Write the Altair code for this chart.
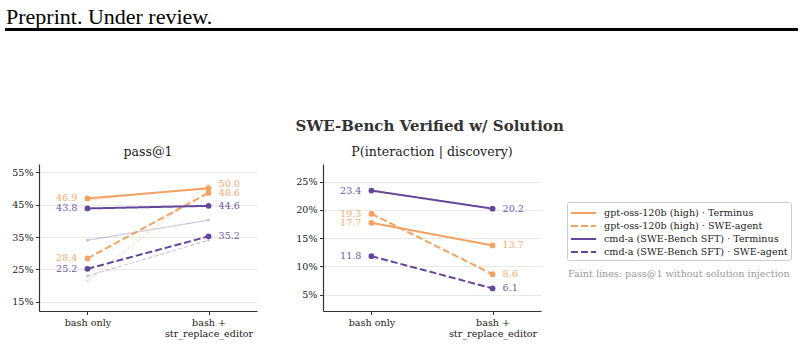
import altair as alt
import pandas as pd

# ---------------- data ----------------
categories = ["bash only", "bash +\nstr_replace_editor"]
series = [
    "gpt-oss-120b (high) · Terminus",
    "gpt-oss-120b (high) · SWE-agent",
    "cmd-a (SWE-Bench SFT) · Terminus",
    "cmd-a (SWE-Bench SFT) · SWE-agent",
]
dashed = [False, True, False, True]
colors = ["#F4A261", "#F4A261", "#64469A", "#64469A"]
dashes = [[1, 0], [7, 3], [1, 0], [7, 3]]

# pass@1 with solution injection (bash only, bash + editor)
pass1_bash = [46.9, 28.4, 43.8, 25.2]
pass1_edit = [50.0, 48.6, 44.6, 35.2]
# pass@1 without solution injection (faint lines)
base_bash = [46.3, 21.5, 34.0, 23.0]
base_edit = [50.4, 51.0, 40.2, 34.0]
# P(interaction | discovery)
pint_bash = [17.7, 19.3, 23.4, 11.8]
pint_edit = [13.7, 8.6, 20.2, 6.1]

left_ticks = [15, 25, 35, 45, 55]
right_ticks = [5, 10, 15, 20, 25]
left_domain = [12.2, 57.5]
right_domain = [2.1, 28.1]

W, H = 218, 147
FONT = "DejaVu Serif"


def table(vals_a, vals_b):
    rows = []
    for s, d, col, a, b in zip(series, dashed, colors, vals_a, vals_b):
        rows.append({"series": s, "dashed": d, "col": col, "cat": categories[0], "value": a})
        rows.append({"series": s, "dashed": d, "col": col, "cat": categories[1], "value": b})
    return pd.DataFrame(rows)


def label_table(df, domain):
    # push overlapping labels apart (upwards), min gap in pixels
    gap = 8.5 * (domain[1] - domain[0]) / H
    out = []
    for c in categories:
        sub = df[df.cat == c].sort_values("value")
        prev = None
        for _, r in sub.iterrows():
            ly = r.value
            if prev is not None and ly - prev < gap:
                ly = prev + gap
            prev = ly
            out.append({"series": r.series, "col": r.col, "cat": c, "ly": ly,
                        "txt": f"{r.value:.1f}"})
    return pd.DataFrame(out)


cscale = alt.Scale(domain=series, range=colors)
dscale = alt.Scale(domain=series, range=dashes)
legend = alt.Legend(
    title=None, orient="none", legendX=528, legendY=38,
    labelFont=FONT, labelFontSize=9.6, labelColor="#222", labelLimit=400,
    symbolType="M-1,0H2.6", symbolSize=196, symbolStrokeWidth=2,
    symbolOpacity=1, labelOffset=18, rowPadding=0, padding=3,
    strokeColor="#cccccc", fillColor="white", cornerRadius=2,
)
xscale = alt.Scale(type="point", padding=0.4)
xaxis = alt.Axis(
    title=None, labelAngle=0, labelExpr="split(datum.label, '\\n')",
    labelFont=FONT, labelFontSize=9.6, labelColor="#222", labelLineHeight=11,
    labelPadding=3, tickSize=3.5, tickColor="#333", domainColor="#333",
    domainWidth=1.2, grid=False,
)


def yaxis(ticks):
    return alt.Axis(
        title=None, values=ticks, labelExpr="datum.value + '%'",
        labelFont=FONT, labelFontSize=9.6, labelColor="#222",
        labelPadding=2.5, tickSize=3.5, tickColor="#333",
        domainColor="#333", domainWidth=1.2,
        grid=True, gridColor="#e9e9e9", gridWidth=1,
    )


def panel(df, domain, ticks, title, faint=None, extras=()):
    ys = alt.Scale(domain=domain, nice=False, zero=False)
    X = alt.X("cat:N", sort=categories, scale=xscale, axis=xaxis)
    Y = alt.Y("value:Q", scale=ys, axis=yaxis(ticks))
    layers = []
    if faint is not None:
        for is_dash, dash in [(False, [1, 0]), (True, [4.4, 1.9])]:
            fb = alt.Chart(faint[faint.dashed == is_dash])
            layers.append(fb.mark_line(strokeWidth=1.2, opacity=0.3,
                                       strokeDash=dash).encode(
                x=X, y=Y, detail="series:N",
                stroke=alt.Stroke("col:N", scale=None),
            ))
        layers.append(alt.Chart(faint).mark_circle(size=8, opacity=0.3).encode(
            x=X, y=Y, fill=alt.Fill("col:N", scale=None),
        ))
    base = alt.Chart(df)
    layers.append(base.mark_line(strokeWidth=2).encode(
        x=X, y=Y,
        color=alt.Color("series:N", scale=cscale, legend=legend),
        strokeDash=alt.StrokeDash("series:N", scale=dscale, legend=legend),
    ))
    layers.append(base.mark_circle(size=34, opacity=1).encode(
        x=X, y=Y, detail="series:N", fill=alt.Fill("col:N", scale=None),
    ))
    lab = label_table(df, domain)
    LY = alt.Y("ly:Q", scale=ys, axis=yaxis(ticks))
    for c, align, dx in [(categories[0], "right", -10), (categories[1], "left", 10)]:
        layers.append(alt.Chart(lab[lab.cat == c]).mark_text(
            align=align, baseline="middle", dx=dx, font=FONT, fontSize=9.6,
            opacity=0.9,
        ).encode(
            x=X, y=LY, text="txt:N", fill=alt.Fill("col:N", scale=None),
        ))
    # panel title
    layers.append(alt.Chart(pd.DataFrame({"t": [title]})).mark_text(
        align="center", baseline="alphabetic", font=FONT, fontSize=12.6,
        color="#222",
    ).encode(text="t:N", x=alt.value(W / 2), y=alt.value(-8.5)))
    layers.extend(extras)
    return alt.layer(*layers).properties(width=W, height=H)


# decorations placed relative to the left panel's plot area
frame = alt.Chart(pd.DataFrame({"f": [0]})).mark_rect(opacity=0).encode(
    x=alt.value(-39), x2=alt.value(765), y=alt.value(-164), y2=alt.value(181))
header = alt.Chart(pd.DataFrame({"t": ["Preprint. Under review."]})).mark_text(
    align="left", baseline="alphabetic", font="Liberation Serif", fontSize=22,
    color="#000",
).encode(text="t:N", x=alt.value(-33), y=alt.value(-140))
hrule = alt.Chart(pd.DataFrame({"f": [0]})).mark_rule(
    color="#000", strokeWidth=3).encode(
    x=alt.value(-34), x2=alt.value(759), y=alt.value(-134.5))
sup = alt.Chart(pd.DataFrame({"t": ["SWE-Bench Verified w/ Solution"]})).mark_text(
    align="center", baseline="alphabetic", font=FONT, fontSize=15,
    fontWeight="bold", color="#333",
).encode(text="t:N", x=alt.value(390.7), y=alt.value(-33.5))
note = alt.Chart(pd.DataFrame({"t": ["Faint lines: pass@1 without solution injection"]})).mark_text(
    align="left", baseline="middle", font=FONT, fontSize=9.6, color="#999999",
).encode(text="t:N", x=alt.value(529), y=alt.value(110))

left = panel(table(pass1_bash, pass1_edit), left_domain, left_ticks, "pass@1",
             faint=table(base_bash, base_edit),
             extras=(frame, header, hrule, sup, note))
right = panel(table(pint_bash, pint_edit), right_domain, right_ticks,
              "P(interaction | discovery)")

chart = alt.hconcat(left, right, spacing=66, bounds="flush").properties(
    padding=0
).configure_view(strokeWidth=0)

chart.save("out.html", embed_options={"renderer": "svg", "actions": False})
